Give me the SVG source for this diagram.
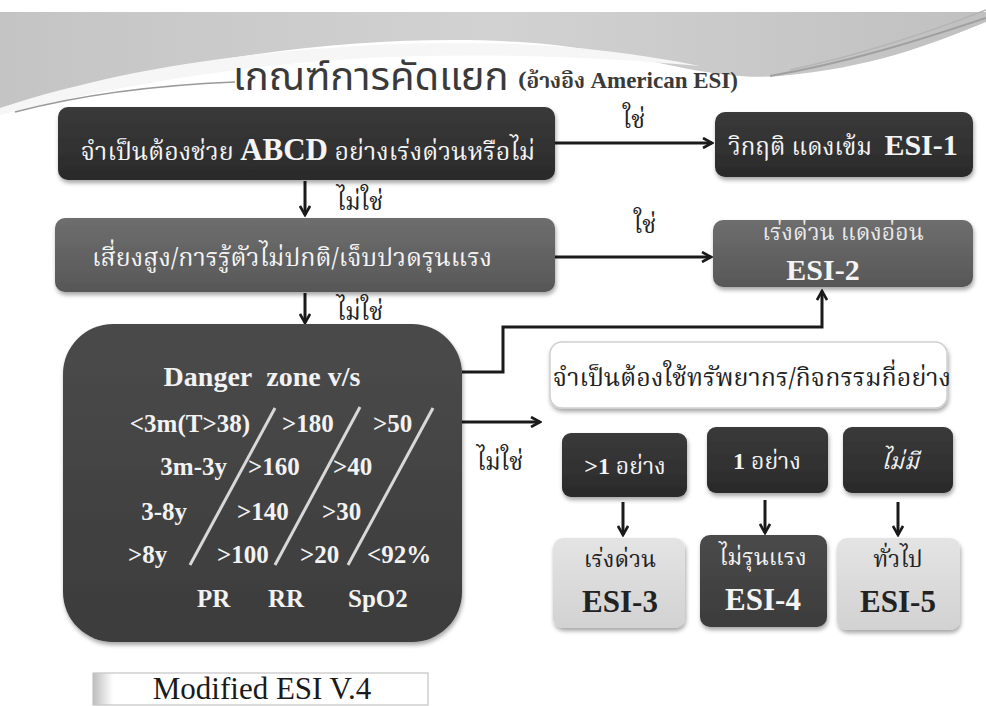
<svg xmlns="http://www.w3.org/2000/svg" width="986" height="706" viewBox="0 0 986 706">
<defs>
  <style>
    .th { font-family: "Noto Serif Thai","Noto Sans Thai","Liberation Serif",serif; }
    .ths { font-family: "Noto Sans Thai","Noto Sans","Liberation Sans",sans-serif; }
    .lat { font-family: "Liberation Serif","Times New Roman",serif; font-weight: bold; }
    .w { fill: #f4f4f4; }
    .k { fill: #222222; }
    .conn { stroke: #1a1a1a; stroke-width: 3; fill: none; }
    .slash { stroke: #d8d8d8; stroke-width: 3; }
    .dz { font-family: "Liberation Serif","Times New Roman",serif; font-weight: bold; font-size: 25px; fill: #f2f2f2; }
  </style>
  <linearGradient id="gDark" x1="0" y1="0" x2="0" y2="1">
    <stop offset="0" stop-color="#3a3a3a"/>
    <stop offset="1" stop-color="#2a2a2a"/>
  </linearGradient>
  <linearGradient id="gMid" x1="0" y1="0" x2="0" y2="1">
    <stop offset="0" stop-color="#6e6e6e"/>
    <stop offset="1" stop-color="#575757"/>
  </linearGradient>
  <linearGradient id="gDanger" x1="0" y1="0" x2="0" y2="1">
    <stop offset="0" stop-color="#4a4a4a"/>
    <stop offset="1" stop-color="#3c3c3c"/>
  </linearGradient>
  <linearGradient id="gLight" x1="0" y1="0" x2="0" y2="1">
    <stop offset="0" stop-color="#e4e4e4"/>
    <stop offset="1" stop-color="#d2d2d2"/>
  </linearGradient>
  <linearGradient id="gBand" x1="0" y1="0" x2="1" y2="0">
    <stop offset="0" stop-color="#c4c4c4"/>
    <stop offset="0.5" stop-color="#d2d2d2"/>
    <stop offset="1" stop-color="#c0c0c0"/>
  </linearGradient>
  <linearGradient id="gTag" x1="0" y1="0" x2="1" y2="0">
    <stop offset="0" stop-color="#bdbdbd"/>
    <stop offset="0.06" stop-color="#ffffff"/>
    <stop offset="1" stop-color="#ffffff"/>
  </linearGradient>
  <filter id="sh" x="-10%" y="-10%" width="120%" height="130%">
    <feDropShadow dx="1" dy="3" stdDeviation="2" flood-color="#000" flood-opacity="0.35"/>
  </filter>
  <marker id="ah" viewBox="0 0 12 12" refX="10" refY="6" markerWidth="12" markerHeight="12" markerUnits="userSpaceOnUse" orient="auto">
    <path d="M1,1 L10,6 L1,11" fill="none" stroke="#1a1a1a" stroke-width="2.6"/>
  </marker>
</defs>

<rect x="0" y="0" width="986" height="706" fill="#ffffff"/>

<!-- top decoration -->
<g id="decor">
  <path d="M0,12 H986 V22 C930,45 870,68 780,76 C700,82 640,50 520,42 C380,34 200,50 0,112 Z" fill="url(#gBand)"/>
  <path d="M0,108 C110,72 240,50 400,44 C520,40 610,48 700,66 C610,58 520,54 420,56 C260,60 120,85 0,115 Z" fill="#f6f6f6"/>
  <path d="M15,112 C80,95 160,85 235,82" stroke="#9a9a9a" stroke-width="1.5" fill="none"/>
  <path d="M770,76 C850,62 920,40 986,18" stroke="#a0a0a0" stroke-width="2" fill="none"/>
  <path d="M790,70 C860,55 930,32 986,10" stroke="#b5b5b5" stroke-width="1.5" fill="none"/>
</g>

<g id="title">
  <text x="233" y="90" class="ths" font-size="40" fill="#3a3a3a">เกณฑ์การคัดแยก</text>
  <text x="518" y="88" class="th" font-size="21" font-weight="bold" fill="#3a3a3a">(อ้างอิง <tspan font-family="Liberation Serif" font-size="23">American ESI)</tspan></text>
</g>

<g id="connectors">
  <line class="conn" x1="555" y1="143" x2="712" y2="143" marker-end="url(#ah)"/>
  <line class="conn" x1="555" y1="257" x2="711" y2="257" marker-end="url(#ah)"/>
  <line class="conn" x1="305" y1="181" x2="305" y2="215" marker-end="url(#ah)"/>
  <line class="conn" x1="305" y1="293" x2="305" y2="323" marker-end="url(#ah)"/>
  <polyline class="conn" points="462,372 503,372 503,327 822,327 822,291" marker-end="url(#ah)"/>
  <line class="conn" x1="458" y1="422" x2="540" y2="422" marker-end="url(#ah)"/>
  <line class="conn" x1="623" y1="502" x2="623" y2="535" marker-end="url(#ah)"/>
  <line class="conn" x1="765" y1="500" x2="765" y2="533" marker-end="url(#ah)"/>
  <line class="conn" x1="898" y1="502" x2="898" y2="535" marker-end="url(#ah)"/>
  <text x="634" y="128" class="th k" font-size="24" text-anchor="middle">ใช่</text>
  <text x="645" y="233" class="th k" font-size="24" text-anchor="middle">ใช่</text>
  <text x="360" y="210" class="th k" font-size="24" text-anchor="middle">ไม่ใช่</text>
  <text x="360" y="320" class="th k" font-size="24" text-anchor="middle">ไม่ใช่</text>
  <text x="500" y="470" class="th k" font-size="24" text-anchor="middle">ไม่ใช่</text>
</g>

<g id="n-abcd">
  <rect x="58" y="107" width="497" height="73" rx="10" fill="url(#gDark)" filter="url(#sh)"/>
  <text x="308" y="160" class="th w" font-size="25" text-anchor="middle">จำเป็นต้องช่วย <tspan class="lat" font-size="31">ABCD</tspan> อย่างเร่งด่วนหรือไม่</text>
</g>

<g id="n-esi1">
  <rect x="715" y="112" width="258" height="65" rx="10" fill="url(#gDark)" filter="url(#sh)"/>
  <text x="843" y="155" class="th w" font-size="24" text-anchor="middle">วิกฤติ แดงเข้ม&#160; <tspan class="lat" font-size="30">ESI-1</tspan></text>
</g>

<g id="n-risk">
  <rect x="55" y="218" width="500" height="74" rx="10" fill="url(#gMid)" filter="url(#sh)"/>
  <text x="292" y="266" class="th w" font-size="25" text-anchor="middle">เสี่ยงสูง/การรู้ตัวไม่ปกติ/เจ็บปวดรุนแรง</text>
</g>

<g id="n-esi2">
  <rect x="713" y="220" width="260" height="67" rx="10" fill="url(#gMid)" filter="url(#sh)"/>
  <text x="843" y="240" class="th" fill="#e8e8e8" font-size="23" text-anchor="middle">เร่งด่วน แดงอ่อน</text>
  <text x="823" y="280" class="lat w" font-size="30" text-anchor="middle">ESI-2</text>
</g>

<g id="n-danger">
  <rect x="63" y="324" width="399" height="318" rx="50" fill="url(#gDanger)" filter="url(#sh)"/>
  <text x="262" y="386" class="dz" style="font-size:28px" text-anchor="middle">Danger&#160; zone v/s</text>
  <text x="250" y="432" class="dz" text-anchor="end">&lt;3m(T&gt;38)</text>
  <text x="282" y="432" class="dz">&gt;180</text>
  <text x="373" y="432" class="dz">&gt;50</text>
  <text x="227" y="475" class="dz" text-anchor="end">3m-3y</text>
  <text x="248" y="475" class="dz">&gt;160</text>
  <text x="333" y="475" class="dz">&gt;40</text>
  <text x="187" y="520" class="dz" text-anchor="end">3-8y</text>
  <text x="237" y="520" class="dz">&gt;140</text>
  <text x="322" y="520" class="dz">&gt;30</text>
  <text x="128" y="563" class="dz">&gt;8y</text>
  <text x="217" y="563" class="dz">&gt;100</text>
  <text x="300" y="563" class="dz">&gt;20</text>
  <text x="367" y="563" class="dz">&lt;92%</text>
  <text x="197" y="607" class="dz">PR</text>
  <text x="268" y="607" class="dz">RR</text>
  <text x="348" y="607" class="dz">SpO2</text>
  <line class="slash" x1="275" y1="408" x2="190" y2="565"/>
  <line class="slash" x1="360" y1="407" x2="275" y2="565"/>
  <line class="slash" x1="433" y1="408" x2="348" y2="565"/>
</g>

<g id="n-resource">
  <rect x="550" y="342" width="397" height="66" rx="12" fill="#ffffff" stroke="#cfcfcf" stroke-width="1.5" filter="url(#sh)"/>
  <text x="752" y="386" class="th k" font-size="25" text-anchor="middle">จำเป็นต้องใช้ทรัพยากร/กิจกรรมกี่อย่าง</text>
</g>

<g id="n-many">
  <rect x="562" y="433" width="125" height="64" rx="9" fill="url(#gDark)" filter="url(#sh)"/>
  <text x="625" y="474" class="th w" font-size="23" text-anchor="middle"><tspan class="lat" font-size="24">&gt;1</tspan> อย่าง</text>
</g>
<g id="n-one">
  <rect x="707" y="427" width="121" height="66" rx="9" fill="url(#gDark)" filter="url(#sh)"/>
  <text x="767" y="469" class="th w" font-size="23" text-anchor="middle"><tspan class="lat" font-size="24">1</tspan> อย่าง</text>
</g>
<g id="n-none">
  <rect x="843" y="427" width="110" height="66" rx="9" fill="url(#gDark)" filter="url(#sh)"/>
  <text x="900" y="469" class="th w" font-size="23" font-style="italic" text-anchor="middle">ไม่มี</text>
</g>

<g id="n-esi3">
  <rect x="553" y="538" width="132" height="90" rx="10" fill="url(#gLight)" filter="url(#sh)"/>
  <text x="620" y="567" class="th k" font-size="23" text-anchor="middle">เร่งด่วน</text>
  <text x="620" y="612" class="lat k" font-size="31" text-anchor="middle">ESI-3</text>
</g>
<g id="n-esi4">
  <rect x="700" y="535" width="127" height="92" rx="10" fill="url(#gDanger)" filter="url(#sh)"/>
  <text x="763" y="565" class="th w" font-size="23" text-anchor="middle">ไม่รุนแรง</text>
  <text x="763" y="610" class="lat w" font-size="31" text-anchor="middle">ESI-4</text>
</g>
<g id="n-esi5">
  <rect x="837" y="538" width="123" height="92" rx="10" fill="url(#gLight)" filter="url(#sh)"/>
  <text x="898" y="567" class="th k" font-size="23" text-anchor="middle">ทั่วไป</text>
  <text x="898" y="612" class="lat k" font-size="31" text-anchor="middle">ESI-5</text>
</g>

<g id="n-modified">
  <rect x="93" y="673" width="335" height="32" fill="url(#gTag)" stroke="#c4c4c4" stroke-width="1.2"/>
  <text x="262" y="699" font-family="Liberation Serif, serif" font-size="31" fill="#1a1a1a" text-anchor="middle">Modified ESI V.4</text>
</g>
</svg>
